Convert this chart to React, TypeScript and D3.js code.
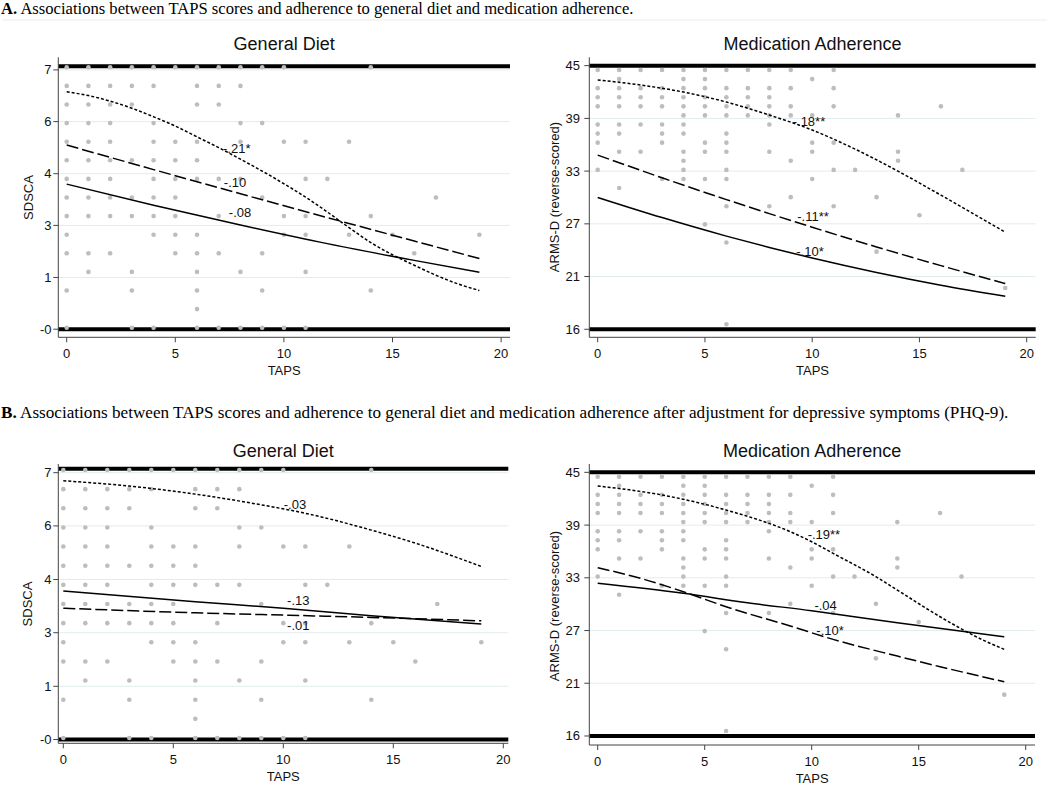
import React from 'react';
import * as d3 from 'd3';

// ---------- data ----------
const TAPS_TICKS = [0, 5, 10, 15, 20];

// y-axis ticks (positions in score units) and their printed labels
const DIET_TICK_VALUES = [-0.04, 1.35, 2.75, 4.14, 5.54, 6.93];
const DIET_TICK_LABELS = ['-0', '1', '3', '4', '6', '7'];
const DIET_REF_LINES = [7.03, -0.04];
const MED_TICK_VALUES = [15.45, 21.26, 27.06, 32.87, 38.67, 44.48];
const MED_TICK_LABELS = ['16', '21', '27', '33', '39', '45'];
const MED_REF_LINES = [44.48, 15.45];

// raw observations: score rows and the TAPS values present at each score
const DIET_SCORES = [7, 6.5, 6, 5.5, 5, 4.5, 4, 3.5, 3, 2.5, 2, 1.5, 1, 0.5, 0];
const DIET_TAPS_AT_SCORE = [
  [0, 1, 2, 3, 4, 5, 6, 7, 8, 9, 10, 14],
  [0, 1, 2, 3, 4, 6, 7, 8],
  [0, 1, 2, 3, 6, 7],
  [0, 1, 2, 4, 8, 9],
  [0, 1, 2, 4, 5, 6, 8, 10, 11, 13],
  [0, 1, 2, 3, 4, 5, 6],
  [0, 1, 2, 4, 5, 6, 7, 8, 11, 12],
  [0, 1, 2, 3, 4, 5, 9, 17],
  [0, 1, 2, 3, 4, 5, 7, 10, 11, 14],
  [0, 4, 5, 6, 10, 11, 13, 15, 19],
  [0, 1, 2, 5, 6, 7, 9, 16],
  [1, 3, 6, 8, 11],
  [0, 3, 6, 9, 14],
  [6],
  [0, 3, 4, 6, 7, 8, 9, 10, 11],
];

const MED_SCORES = [44, 43, 42, 41, 40, 39, 38, 37, 36, 35, 34, 33, 32, 31, 30, 29, 28, 27, 25, 24, 20, 16];
const MED_TAPS_AT_SCORE = [
  [0, 1, 2, 3, 4, 5, 6, 7, 8, 9, 11],
  [1, 4, 5, 10],
  [0, 1, 2, 3, 4, 5, 6, 7, 8, 9, 11],
  [0, 1, 2, 3, 4, 5, 6, 7, 8],
  [0, 1, 2, 3, 4, 5, 6, 7, 8, 9, 11, 16],
  [4, 5, 6, 7, 8, 9, 10, 14],
  [0, 1, 2, 3, 4, 8],
  [0, 1, 3, 4, 6],
  [0, 3, 5, 6, 10, 11],
  [1, 2, 4, 5, 6, 8, 10, 14],
  [4, 9, 14],
  [0, 4, 6, 11, 12, 17],
  [3, 4, 5, 6, 10],
  [1],
  [9, 13],
  [6, 8, 11],
  [15],
  [5],
  [6],
  [13],
  [19],
  [6],
];

// fitted curves (TAPS, predicted score)
const A_DIET_DOT_T = [0, 1, 2, 3, 4, 5, 6, 7, 8, 9, 10, 11, 12, 13, 14, 15, 16, 17, 18, 19];
const A_DIET_DOT_V = [6.34, 6.24, 6.09, 5.9, 5.67, 5.42, 5.13, 4.84, 4.53, 4.21, 3.87, 3.51, 3.11, 2.69, 2.29, 1.96, 1.68, 1.41, 1.18, 1.0];
const A_DIET_DASH_T = [0, 4, 8, 12, 16, 19];
const A_DIET_DASH_V = [4.91, 4.25, 3.6, 2.96, 2.33, 1.86];
const A_DIET_SOLID_T = [0, 4, 8, 12, 16, 19];
const A_DIET_SOLID_V = [3.86, 3.29, 2.76, 2.26, 1.81, 1.49];

const A_MED_DOT_T = [0, 2, 4, 6, 8, 10, 12, 14, 16, 19];
const A_MED_DOT_V = [42.9, 42.35, 41.57, 40.47, 39.04, 37.39, 35.29, 32.86, 30.22, 26.14];
const A_MED_DASH_T = [0, 3, 6, 8, 10, 13, 16, 19];
const A_MED_DASH_V = [34.63, 32.13, 29.73, 28.19, 26.69, 24.52, 22.46, 20.49];
const A_MED_SOLID_T = [0, 3, 6, 8, 10, 13, 16, 19];
const A_MED_SOLID_V = [29.97, 27.75, 25.71, 24.46, 23.29, 21.7, 20.3, 19.08];

const B_DIET_DOT_T = [0, 3, 6, 9, 11, 14, 16, 19];
const B_DIET_DOT_V = [6.72, 6.58, 6.37, 6.09, 5.87, 5.43, 5.09, 4.48];
const B_DIET_SOLID_T = [0, 6, 10, 14, 19];
const B_DIET_SOLID_V = [3.84, 3.56, 3.39, 3.19, 2.98];
const B_DIET_DASH_T = [0, 6, 10, 14, 19];
const B_DIET_DASH_V = [3.39, 3.27, 3.21, 3.15, 3.06];

const B_MED_DOT_T = [0, 3, 6, 9, 10, 11, 13, 14, 16, 18, 19];
const B_MED_DOT_V = [42.98, 41.99, 40.33, 37.94, 36.84, 35.56, 32.99, 31.52, 28.58, 26.02, 24.99];
const B_MED_DASH_T = [0, 2, 4, 6, 9, 11, 14, 16, 19];
const B_MED_DASH_V = [33.98, 32.81, 31.34, 29.68, 27.56, 26.09, 24.25, 23.08, 21.42];
const B_MED_SOLID_T = [0, 4, 7, 10, 14, 19];
const B_MED_SOLID_V = [32.26, 31.16, 30.12, 29.24, 27.92, 26.38];

// coefficient annotations: text, anchor TAPS, anchor score
const A_DIET_LABELS = ['-.21*', '-.10', '-.08'];
const A_DIET_LABEL_T = [7.83, 7.75, 7.98];
const A_DIET_LABEL_V = [4.82, 3.9, 3.1];
const A_MED_LABELS = ['-.18**', '-.11**', '-.10*'];
const A_MED_LABEL_T = [9.85, 10.04, 9.9];
const A_MED_LABEL_V = [38.3, 27.83, 23.97];
const B_DIET_LABELS = ['-.03', '-.13', '-.01'];
const B_DIET_LABEL_T = [10.53, 10.68, 10.68];
const B_DIET_LABEL_V = [6.11, 3.59, 2.93];
const B_MED_LABELS = ['-.19**', '-.04', '-.10*'];
const B_MED_LABEL_T = [10.57, 10.65, 10.86];
const B_MED_LABEL_V = [37.66, 29.79, 27.12];

const CAPTION_A = 'Associations between TAPS scores and adherence to general diet and medication adherence.';
const CAPTION_B = 'Associations between TAPS scores and adherence to general diet and medication adherence after adjustment for depressive symptoms (PHQ-9).';

// ---------- drawing ----------
const SANS = '"Liberation Sans", Arial, Helvetica, sans-serif';
const SERIF = '"Liberation Serif", "Times New Roman", serif';

type CurveStyle = 'solid' | 'dash' | 'dot';
interface Curve { t: number[]; v: number[]; style: CurveStyle }
interface Geom {
  left: number; right: number; top: number; bottom: number;
  x0: number; x20: number;
  yHiVal: number; yHiPx: number; yLoVal: number; yLoPx: number;
  tickEnd: number; yLabelX: number; yLabelY: number;
}
interface PanelProps {
  geom: Geom; title: string; yLabel: string;
  tickValues: number[]; tickLabels: string[]; refLines: number[];
  scores: number[]; tapsAt: number[][];
  curves: Curve[]; labels: string[]; labelT: number[]; labelV: number[];
}

const DASH: Record<CurveStyle, string | undefined> = { solid: undefined, dash: '12,4', dot: '3,2' };

function Panel(p: PanelProps) {
  const g = p.geom;
  const x = d3.scaleLinear().domain([0, 20]).range([g.x0, g.x20]);
  const y = d3.scaleLinear().domain([g.yLoVal, g.yHiVal]).range([g.yLoPx, g.yHiPx]);
  const line = d3.line<[number, number]>().x(d => x(d[0])).y(d => y(d[1])).curve(d3.curveMonotoneX);
  const pts: [number, number][] = [];
  p.scores.forEach((s, i) => p.tapsAt[i].forEach(t => pts.push([t, s])));
  const cx = (g.left + g.right) / 2;
  return (
    <g>
      {p.tickValues.map((v, i) => (
        <line key={'g' + i} x1={g.left} x2={g.right} y1={y(v)} y2={y(v)} stroke="#e2ecee" strokeWidth={1} />
      ))}
      {p.refLines.map((v, i) => (
        <line key={'r' + i} x1={g.left} x2={g.right} y1={y(v)} y2={y(v)} stroke="#000" strokeWidth={4} />
      ))}
      {pts.map((d, i) => (
        <circle key={'p' + i} cx={x(d[0])} cy={y(d[1])} r={2.3} fill="#bdbdbd" />
      ))}
      {p.curves.map((c, i) => (
        <path key={'c' + i} d={line(c.t.map((t, j) => [t, c.v[j]] as [number, number])) || ''}
          fill="none" stroke="#000" strokeWidth={1.5} strokeDasharray={DASH[c.style]} />
      ))}
      {p.labels.map((s, i) => (
        <text key={'l' + i} x={x(p.labelT[i])} y={y(p.labelV[i])} textAnchor="middle" dominantBaseline="central"
          fontFamily={SANS} fontSize={13} fill="#111">{s}</text>
      ))}
      <line x1={g.left} x2={g.left} y1={g.top} y2={g.bottom} stroke="#444" strokeWidth={1} />
      <line x1={g.left} x2={g.right} y1={g.bottom} y2={g.bottom} stroke="#444" strokeWidth={1} />
      {p.tickValues.map((v, i) => (
        <g key={'yt' + i}>
          <line x1={g.left - 5} x2={g.left} y1={y(v)} y2={y(v)} stroke="#444" />
          <text x={g.tickEnd} y={y(v)} textAnchor="end" dominantBaseline="central" fontFamily={SANS} fontSize={13} fill="#111">
            {p.tickLabels[i]}
          </text>
        </g>
      ))}
      {TAPS_TICKS.map(t => (
        <g key={'xt' + t}>
          <line x1={x(t)} x2={x(t)} y1={g.bottom} y2={g.bottom + 5} stroke="#444" />
          <text x={x(t)} y={g.bottom + 20.5} textAnchor="middle" fontFamily={SANS} fontSize={13} fill="#111">{t}</text>
        </g>
      ))}
      <text x={cx} y={g.bottom + 38} textAnchor="middle" fontFamily={SANS} fontSize={13} fill="#111">TAPS</text>
      <text x={cx} y={g.top - 7} textAnchor="middle" fontFamily={SANS} fontSize={18} fill="#111">{p.title}</text>
      <text transform={`translate(${g.yLabelX},${g.yLabelY}) rotate(-90)`} textAnchor="middle" fontFamily={SANS}
        fontSize={13} fill="#111">{p.yLabel}</text>
    </g>
  );
}

const GEOM_TL: Geom = { left: 58.3, right: 510, top: 57.3, bottom: 337.3, x0: 66.7, x20: 501.1, yHiVal: 7, yHiPx: 67.3, yLoVal: 0, yLoPx: 327.7, tickEnd: 51.5, yLabelX: 32.5, yLabelY: 197.5 };
const GEOM_TR: Geom = { left: 589.3, right: 1035.7, top: 57.3, bottom: 337.3, x0: 597.7, x20: 1026.7, yHiVal: 44, yHiPx: 70, yLoVal: 16, yLoPx: 324.3, tickEnd: 580, yLabelX: 558.5, yLabelY: 197 };
const GEOM_BL: Geom = { left: 58.3, right: 508.3, top: 464, bottom: 743.3, x0: 63.3, x20: 503.3, yHiVal: 7, yHiPx: 470, yLoVal: 0, yLoPx: 738, tickEnd: 51.5, yLabelX: 32, yLabelY: 604 };
const GEOM_BR: Geom = { left: 589.3, right: 1035, top: 464, bottom: 745, x0: 597.7, x20: 1025.7, yHiVal: 44, yHiPx: 476.7, yLoVal: 16, yLoPx: 731, tickEnd: 580, yLabelX: 559, yLabelY: 606 };

export default function App() {
  return (
    <svg width={1050} height={805} style={{ position: 'absolute', left: 0, top: 0, background: '#fff' }}>
      <rect x={0} y={0} width={1050} height={805} fill="#fff" />
      <text x={1} y={13.5} fontFamily={SERIF} fontSize={16.6} fill="#000">
        <tspan fontWeight="bold">A.</tspan> {CAPTION_A}
      </text>
      <line x1={3} x2={1047} y1={20} y2={20} stroke="#ececec" />
      <text x={1} y={418.3} fontFamily={SERIF} fontSize={17.15} fill="#000">
        <tspan fontWeight="bold">B.</tspan> {CAPTION_B}
      </text>
      <Panel geom={GEOM_TL} title="General Diet" yLabel="SDSCA" tickValues={DIET_TICK_VALUES} tickLabels={DIET_TICK_LABELS}
        refLines={DIET_REF_LINES} scores={DIET_SCORES} tapsAt={DIET_TAPS_AT_SCORE}
        curves={[
          { t: A_DIET_DOT_T, v: A_DIET_DOT_V, style: 'dot' },
          { t: A_DIET_DASH_T, v: A_DIET_DASH_V, style: 'dash' },
          { t: A_DIET_SOLID_T, v: A_DIET_SOLID_V, style: 'solid' },
        ]}
        labels={A_DIET_LABELS} labelT={A_DIET_LABEL_T} labelV={A_DIET_LABEL_V} />
      <Panel geom={GEOM_TR} title="Medication Adherence" yLabel="ARMS-D (reverse-scored)" tickValues={MED_TICK_VALUES}
        tickLabels={MED_TICK_LABELS} refLines={MED_REF_LINES} scores={MED_SCORES} tapsAt={MED_TAPS_AT_SCORE}
        curves={[
          { t: A_MED_DOT_T, v: A_MED_DOT_V, style: 'dot' },
          { t: A_MED_DASH_T, v: A_MED_DASH_V, style: 'dash' },
          { t: A_MED_SOLID_T, v: A_MED_SOLID_V, style: 'solid' },
        ]}
        labels={A_MED_LABELS} labelT={A_MED_LABEL_T} labelV={A_MED_LABEL_V} />
      <Panel geom={GEOM_BL} title="General Diet" yLabel="SDSCA" tickValues={DIET_TICK_VALUES} tickLabels={DIET_TICK_LABELS}
        refLines={DIET_REF_LINES} scores={DIET_SCORES} tapsAt={DIET_TAPS_AT_SCORE}
        curves={[
          { t: B_DIET_DOT_T, v: B_DIET_DOT_V, style: 'dot' },
          { t: B_DIET_DASH_T, v: B_DIET_DASH_V, style: 'dash' },
          { t: B_DIET_SOLID_T, v: B_DIET_SOLID_V, style: 'solid' },
        ]}
        labels={B_DIET_LABELS} labelT={B_DIET_LABEL_T} labelV={B_DIET_LABEL_V} />
      <Panel geom={GEOM_BR} title="Medication Adherence" yLabel="ARMS-D (reverse-scored)" tickValues={MED_TICK_VALUES}
        tickLabels={MED_TICK_LABELS} refLines={MED_REF_LINES} scores={MED_SCORES} tapsAt={MED_TAPS_AT_SCORE}
        curves={[
          { t: B_MED_DOT_T, v: B_MED_DOT_V, style: 'dot' },
          { t: B_MED_DASH_T, v: B_MED_DASH_V, style: 'dash' },
          { t: B_MED_SOLID_T, v: B_MED_SOLID_V, style: 'solid' },
        ]}
        labels={B_MED_LABELS} labelT={B_MED_LABEL_T} labelV={B_MED_LABEL_V} />
    </svg>
  );
}
